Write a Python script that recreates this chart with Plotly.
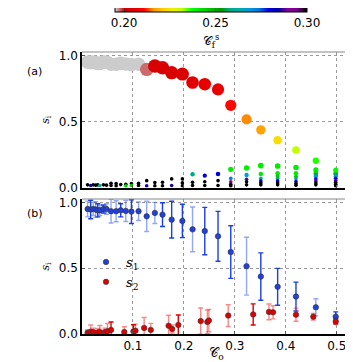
import numpy as np
import plotly.graph_objects as go
from plotly.subplots import make_subplots

# ---- data ----
# C_o of every configuration (panel (a) columns and s1 in panel (b))
c_o = [0.011, 0.017, 0.022, 0.027, 0.031, 0.035, 0.042, 0.048, 0.057, 0.067,
       0.076, 0.086, 0.097, 0.111, 0.127, 0.143, 0.158, 0.176, 0.197, 0.217,
       0.241, 0.267, 0.292, 0.323, 0.351, 0.384, 0.420, 0.459, 0.498]
s1 = [0.951, 0.947, 0.951, 0.947, 0.941, 0.941, 0.951, 0.951, 0.934, 0.934,
      0.941, 0.936, 0.931, 0.934, 0.895, 0.921, 0.908, 0.870, 0.860, 0.796,
      0.783, 0.743, 0.623, 0.516, 0.437, 0.359, 0.285, 0.203, 0.132]
s1_err = [0.06, 0.07, 0.05, 0.06, 0.05, 0.04, 0.03, 0.04, 0.09, 0.08,
          0.05, 0.08, 0.09, 0.07, 0.115, 0.08, 0.09, 0.14, 0.127, 0.17,
          0.18, 0.19, 0.20, 0.22, 0.18, 0.14, 0.11, 0.065, 0.036]
s1_pale = [1, 0, 1, 1, 0, 1, 0, 1, 1, 1, 0, 1, 0, 1, 1, 1, 0, 0, 0, 1,
           0, 0, 0, 1, 0, 0, 0, 1, 0]
cf_s1 = [0.18] * 14 + [0.1975, 0.204, 0.204, 0.205, 0.205, 0.206, 0.207, 0.207,
                       0.211, 0.2155, 0.217, 0.224, 0.231, 0.236, 0.238]

# the smaller clusters s2, s3, ... of each column in panel (a)
minor_s = [
    [0.02], [0.015], [0.02], [0.018], [0.02], [0.015], [0.02], [0.018],
    [0.032, 0.015], [0.03, 0.012], [0.022], [0.025, 0.012], [0.03, 0.015],
    [0.032, 0.015], [0.052, 0.012], [0.037, 0.012], [0.04, 0.012],
    [0.065, 0.015], [0.065, 0.035, 0.012], [0.10, 0.039, 0.015],
    [0.09, 0.044, 0.015], [0.103, 0.052, 0.015],
    [0.138, 0.070, 0.044, 0.025, 0.012],
    [0.148, 0.095, 0.062, 0.044, 0.02],
    [0.166, 0.103, 0.070, 0.05, 0.035, 0.02],
    [0.163, 0.108, 0.087, 0.070, 0.05, 0.035, 0.02],
    [0.151, 0.108, 0.082, 0.065, 0.045, 0.03, 0.018],
    [0.133, 0.108, 0.095, 0.085, 0.065, 0.05, 0.035, 0.02],
    [0.108, 0.098, 0.085, 0.07, 0.055, 0.04, 0.025, 0.012],
]
minor_cf = [
    [0.30], [0.28], [0.30], [0.30], [0.30], [0.26], [0.30], [0.30],
    [0.30, 0.30], [0.30, 0.30], [0.30], [0.30, 0.245], [0.30, 0.245],
    [0.30, 0.30], [0.30, 0.285], [0.30, 0.30], [0.30, 0.30],
    [0.30, 0.285], [0.30, 0.30, 0.30], [0.258, 0.30, 0.30],
    [0.279, 0.30, 0.30], [0.279, 0.30, 0.30],
    [0.240, 0.272, 0.29, 0.30, 0.30],
    [0.240, 0.268, 0.288, 0.30, 0.30],
    [0.240, 0.240, 0.262, 0.279, 0.30, 0.30],
    [0.240, 0.240, 0.245, 0.262, 0.279, 0.30, 0.30],
    [0.240, 0.240, 0.245, 0.262, 0.279, 0.30, 0.30],
    [0.240, 0.242, 0.255, 0.268, 0.279, 0.288, 0.30, 0.30],
    [0.245, 0.255, 0.268, 0.279, 0.288, 0.30, 0.30, 0.30],
]

# s2 in panel (b)
c_o_s2 = [0.011, 0.017, 0.022, 0.031, 0.035, 0.045, 0.050, 0.057, 0.083, 0.101,
          0.105, 0.122, 0.135, 0.170, 0.177, 0.189, 0.233, 0.246, 0.249, 0.287,
          0.336, 0.367, 0.375, 0.420, 0.454, 0.498]
s2 = [0.010, 0.018, 0.015, 0.012, 0.015, 0.015, 0.020, 0.031, 0.015, 0.020,
      0.025, 0.046, 0.031, 0.063, 0.038, 0.069, 0.098, 0.092, 0.102, 0.140,
      0.149, 0.168, 0.165, 0.147, 0.132, 0.096]
s2_err = [0.02, 0.05, 0.03, 0.03, 0.05, 0.03, 0.06, 0.06, 0.04, 0.05,
          0.05, 0.08, 0.05, 0.08, 0.03, 0.075, 0.10, 0.09, 0.085, 0.083,
          0.08, 0.06, 0.05, 0.05, 0.025, 0.02]
s2_pale = [1, 1, 1, 1, 1, 1, 1, 0, 1, 0, 1, 1, 1, 1, 1, 0, 1, 1, 1, 1,
           0, 1, 1, 1, 1, 0]

cf_ticks = [0.20, 0.25, 0.30]
x_ticks = [0.1, 0.2, 0.3, 0.4, 0.5]
y_ticks = [0.0, 0.5, 1.0]

# matplotlib nipy_spectral, used reversed
_nipy = [(0.00, 0, 0, 0), (0.05, .4667, 0, .5333), (0.10, .5333, 0, .6),
         (0.15, 0, 0, .6667), (0.20, 0, 0, .8667), (0.25, 0, .4667, .8667),
         (0.30, 0, .6, .8667), (0.35, 0, .6667, .6667), (0.40, 0, .6667, .5333),
         (0.45, 0, .6, 0), (0.50, 0, .7333, 0), (0.55, 0, .8667, 0),
         (0.60, 0, 1, 0), (0.65, .7333, 1, 0), (0.70, .9333, .9333, 0),
         (0.75, 1, .8, 0), (0.80, 1, .6, 0), (0.85, 1, 0, 0),
         (0.90, .8667, 0, 0), (0.95, .8, 0, 0), (1.00, .8, .8, .8)]
nipy_r = [[round(1 - p, 2), f"rgb({r*255:.0f},{g*255:.0f},{b*255:.0f})"]
          for p, r, g, b in reversed(_nipy)]

# the page body keeps its default 8px margin, so the figure is drawn 8px smaller
W, H = 345, 354
ML, MR, MT, MB = 74, 2, 44, 28
pw, ph = W - ML - MR, H - MT - MB


def px_x(px):  # window pixel -> paper x
    return (px - 8 - ML) / pw


def px_y(py):  # window pixel -> paper y
    return (H - MB - (py - 8)) / ph


fig = make_subplots(rows=2, cols=1)

# ---- panel (a) ----
SREF = 1 / 100
mx = [x for x, ss in zip(c_o, minor_s) for _ in ss]
ms = [v for ss in minor_s for v in ss]
mc = [v for cc in minor_cf for v in cc]
fig.add_trace(go.Scatter(
    x=mx, y=ms, mode="markers", showlegend=False, hoverinfo="skip",
    marker=dict(size=ms, sizemode="area", sizeref=SREF, sizemin=1.8, opacity=1,
                color=mc, coloraxis="coloraxis", line=dict(width=0))),
    row=1, col=1)
fig.add_trace(go.Scatter(
    x=c_o, y=s1, mode="markers", showlegend=False,
    marker=dict(size=s1, sizemode="area", sizeref=SREF, sizemin=1.8, opacity=1,
                color=cf_s1, coloraxis="coloraxis", line=dict(width=0))),
    row=1, col=1)


# ---- panel (b) ----
def err_trace(x, y, e, pale, want, col):
    x, y, e, pale = map(np.asarray, (x, y, e, pale))
    m = pale == want
    return go.Scatter(x=x[m], y=y[m], mode="markers", showlegend=False,
                      hoverinfo="skip", marker=dict(size=6, opacity=0),
                      error_y=dict(type="data", array=e[m], color=col,
                                   thickness=1.4, width=2.5))


fig.add_trace(err_trace(c_o, s1, s1_err, s1_pale, 1, "rgba(40,80,230,0.5)"), row=2, col=1)
fig.add_trace(err_trace(c_o, s1, s1_err, s1_pale, 0, "#1a3fe6"), row=2, col=1)
fig.add_trace(err_trace(c_o_s2, s2, s2_err, s2_pale, 1, "rgba(235,40,40,0.55)"), row=2, col=1)
fig.add_trace(err_trace(c_o_s2, s2, s2_err, s2_pale, 0, "#e00000"), row=2, col=1)

fig.add_trace(go.Scatter(
    x=c_o, y=s1, mode="markers", name="<i>s</i><sub>1</sub>",
    marker=dict(size=5.5, color="#2040e0", line=dict(color="#333", width=0.6))),
    row=2, col=1)
fig.add_trace(go.Scatter(
    x=c_o_s2, y=s2, mode="markers", name="<i>s</i><sub>2</sub>",
    marker=dict(size=5.5, color="#e00000", line=dict(color="#333", width=0.6))),
    row=2, col=1)

# ---- axes ----
axis_common = dict(range=[0, 0.528], tickvals=x_ticks, showgrid=True,
                   gridcolor="#999", griddash="dot", gridwidth=1,
                   showline=True, linecolor="black", linewidth=1.5,
                   ticks="inside", ticklen=3, tickcolor="#555",
                   tickfont=dict(family="DejaVu Sans", size=12, color="black"),
                   zeroline=False)
fig.update_xaxes(**axis_common)
fig.update_xaxes(showticklabels=False, row=1, col=1)
fig.update_xaxes(ticktext=["0.1", "0.2", "0.3", "0.4", "0.5"],
                 title=dict(text="𝒞<sub>o</sub>", standoff=5,
                            font=dict(family="DejaVu Serif", size=13, color="black")),
                 row=2, col=1)
fig.update_yaxes(**{**axis_common, "range": [0, 1.027], "tickvals": y_ticks},
                 ticktext=["0.0", "0.5", "1.0"],
                 title=dict(text="<i>s</i><sub>i</sub>", standoff=7,
                            font=dict(family="DejaVu Serif", size=11, color="black")))

fig.update_layout(
    width=W, height=H,
    margin=dict(l=ML, r=MR, t=MT, b=MB, autoexpand=False),
    plot_bgcolor="white", paper_bgcolor="white",
    xaxis=dict(domain=[0, 1]), xaxis2=dict(domain=[0, 1]),
    yaxis=dict(domain=[px_y(187.5), 1]), yaxis2=dict(domain=[0, px_y(199)]),
    coloraxis=dict(
        colorscale=nipy_r, cmin=0.195, cmax=0.30,
        colorbar=dict(
            orientation="h", x=px_x(211), xanchor="center",
            y=px_y(1), yanchor="top", len=192 / pw, lenmode="fraction",
            thickness=11, thicknessmode="pixels", xpad=0, ypad=0,
            outlinecolor="black", outlinewidth=1,
            tickvals=cf_ticks, ticktext=["0.20", "0.25", "0.30"],
            ticks="inside", ticklen=3, tickcolor="#333",
            tickfont=dict(family="DejaVu Sans", size=12, color="black"),
            title=dict(text="𝒞<sub>f</sub><sup>s</sup>", side="bottom",
                       font=dict(family="DejaVu Serif", size=12, color="black")))),
    legend=dict(x=px_x(86), xanchor="left", y=px_y(247),
                yanchor="top", bgcolor="rgba(0,0,0,0)",
                font=dict(family="DejaVu Serif", size=13, color="black")),
    annotations=[
        dict(text="(a)", x=px_x(25), y=px_y(63), xref="paper",
             yref="paper", showarrow=False,
             font=dict(family="DejaVu Sans", size=11, color="black")),
        dict(text="(b)", x=px_x(25), y=px_y(213), xref="paper",
             yref="paper", showarrow=False,
             font=dict(family="DejaVu Sans", size=11, color="black")),
    ],
)

# grey top / right frame lines
for xr, yr in (("x domain", "y domain"), ("x2 domain", "y2 domain")):
    fig.add_shape(type="line", xref=xr, yref=yr, x0=0, x1=1, y0=1, y1=1,
                  line=dict(color="#888", width=1))
    fig.add_shape(type="line", xref=xr, yref=yr, x0=1, x1=1, y0=0, y1=1,
                  line=dict(color="#888", width=1))

fig.write_html("out.html")
